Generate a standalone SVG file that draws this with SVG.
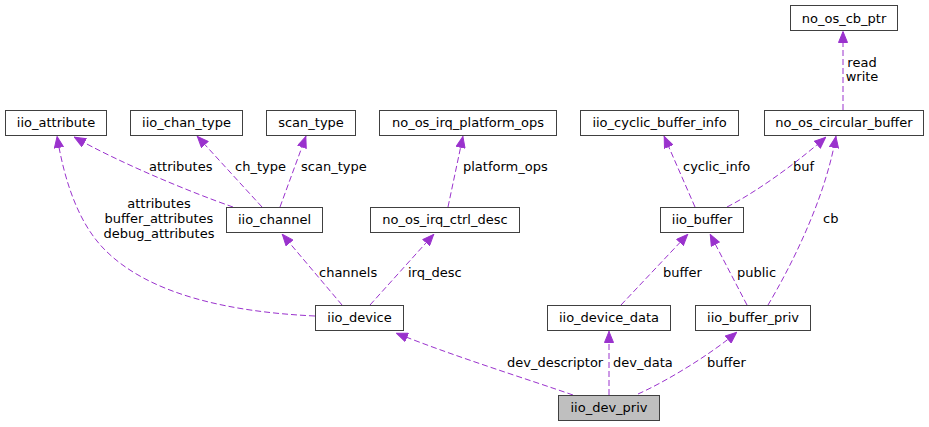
<svg xmlns="http://www.w3.org/2000/svg" width="929" height="427" viewBox="0 0 929 427">
<style>
.n rect{fill:#ffffff;stroke:#404040;stroke-width:1}
.n.hl rect{fill:#bfbfbf}
text{font-family:"DejaVu Sans","Liberation Sans",sans-serif;font-size:13px;fill:#000000}
.n text{text-anchor:middle}
.e path{fill:none;stroke:#9a32cd;stroke-width:1;stroke-dasharray:6,3;marker-end:url(#ah)}
.m{text-anchor:middle}
</style>
<defs>
<marker id="ah" markerUnits="userSpaceOnUse" viewBox="0 0 12 10" refX="12" refY="5" markerWidth="12" markerHeight="10" orient="auto">
<path d="M0.5,0.5 L11.5,5 L0.5,9.5 z" fill="#9a32cd" stroke="#9a32cd" stroke-width="1"/>
</marker>
</defs>
<rect x="0" y="0" width="929" height="427" fill="#ffffff"/>
<g id="edges" class="e">
<path d="M233,207 C190,192 120,163 74,137"/>
<path d="M262,207 L197,136"/>
<path d="M280,207 L306,136"/>
<path d="M448,207 L463,136"/>
<path d="M315,316 C230,312 150,295 105,250 C80,225 65,185 57,136"/>
<path d="M342,305 L282,234"/>
<path d="M370,305 L434,234"/>
<path d="M573,395 C530,380 450,355 396,333"/>
<path d="M609,395 L609,331"/>
<path d="M638,394 C665,382 710,355 737,332"/>
<path d="M621,305 L688,234"/>
<path d="M747,305 L710,234"/>
<path d="M768,305 C790,268 825,200 836,136"/>
<path d="M695,207 L664,136"/>
<path d="M727,207 C760,190 800,160 826,137"/>
<path d="M843,110 L843,31"/>
</g>
<g id="edge-labels">
<text x="149" y="171">attributes</text>
<text x="235" y="171">ch_type</text>
<text x="301" y="171">scan_type</text>
<text x="463" y="171">platform_ops</text>
<text class="m" x="159" y="208">attributes</text>
<text class="m" x="159" y="223">buffer_attributes</text>
<text class="m" x="159" y="238">debug_attributes</text>
<text x="319" y="277">channels</text>
<text x="408" y="277">irq_desc</text>
<text x="507" y="367">dev_descriptor</text>
<text x="613" y="367">dev_data</text>
<text x="707" y="367">buffer</text>
<text x="663" y="277">buffer</text>
<text x="737" y="277">public</text>
<text x="823" y="223">cb</text>
<text x="683" y="171">cyclic_info</text>
<text x="793" y="171">buf</text>
<text class="m" x="862" y="67">read</text>
<text class="m" x="862" y="81">write</text>
</g>
<g id="iio_attribute" class="n"><rect x="5.5" y="110.5" width="101" height="25"/><text x="56" y="127">iio_attribute</text></g>
<g id="iio_chan_type" class="n"><rect x="130.5" y="110.5" width="112" height="25"/><text x="186.5" y="127">iio_chan_type</text></g>
<g id="scan_type" class="n"><rect x="266.5" y="110.5" width="89" height="25"/><text x="311" y="127">scan_type</text></g>
<g id="no_os_irq_platform_ops" class="n"><rect x="379.5" y="110.5" width="177" height="25"/><text x="468" y="127">no_os_irq_platform_ops</text></g>
<g id="iio_channel" class="n"><rect x="226.5" y="207.5" width="96" height="25"/><text x="274.5" y="224">iio_channel</text></g>
<g id="no_os_irq_ctrl_desc" class="n"><rect x="370.5" y="207.5" width="149" height="25"/><text x="445" y="224">no_os_irq_ctrl_desc</text></g>
<g id="iio_device" class="n"><rect x="315.5" y="305.5" width="88" height="25"/><text x="359.5" y="322">iio_device</text></g>
<g id="iio_device_data" class="n"><rect x="547.5" y="305.5" width="123" height="25"/><text x="609" y="322">iio_device_data</text></g>
<g id="iio_buffer_priv" class="n"><rect x="695.5" y="305.5" width="115" height="25"/><text x="753" y="322">iio_buffer_priv</text></g>
<g id="iio_dev_priv" class="n hl"><rect x="558.5" y="395.5" width="101" height="25"/><text x="609" y="412">iio_dev_priv</text></g>
<g id="iio_buffer" class="n"><rect x="660.5" y="207.5" width="83" height="25"/><text x="702" y="224">iio_buffer</text></g>
<g id="iio_cyclic_buffer_info" class="n"><rect x="580.5" y="110.5" width="158" height="25"/><text x="659.5" y="127">iio_cyclic_buffer_info</text></g>
<g id="no_os_circular_buffer" class="n"><rect x="764.5" y="110.5" width="159" height="25"/><text x="844" y="127">no_os_circular_buffer</text></g>
<g id="no_os_cb_ptr" class="n"><rect x="790.5" y="5.5" width="107" height="25"/><text x="844" y="23">no_os_cb_ptr</text></g>
</svg>
